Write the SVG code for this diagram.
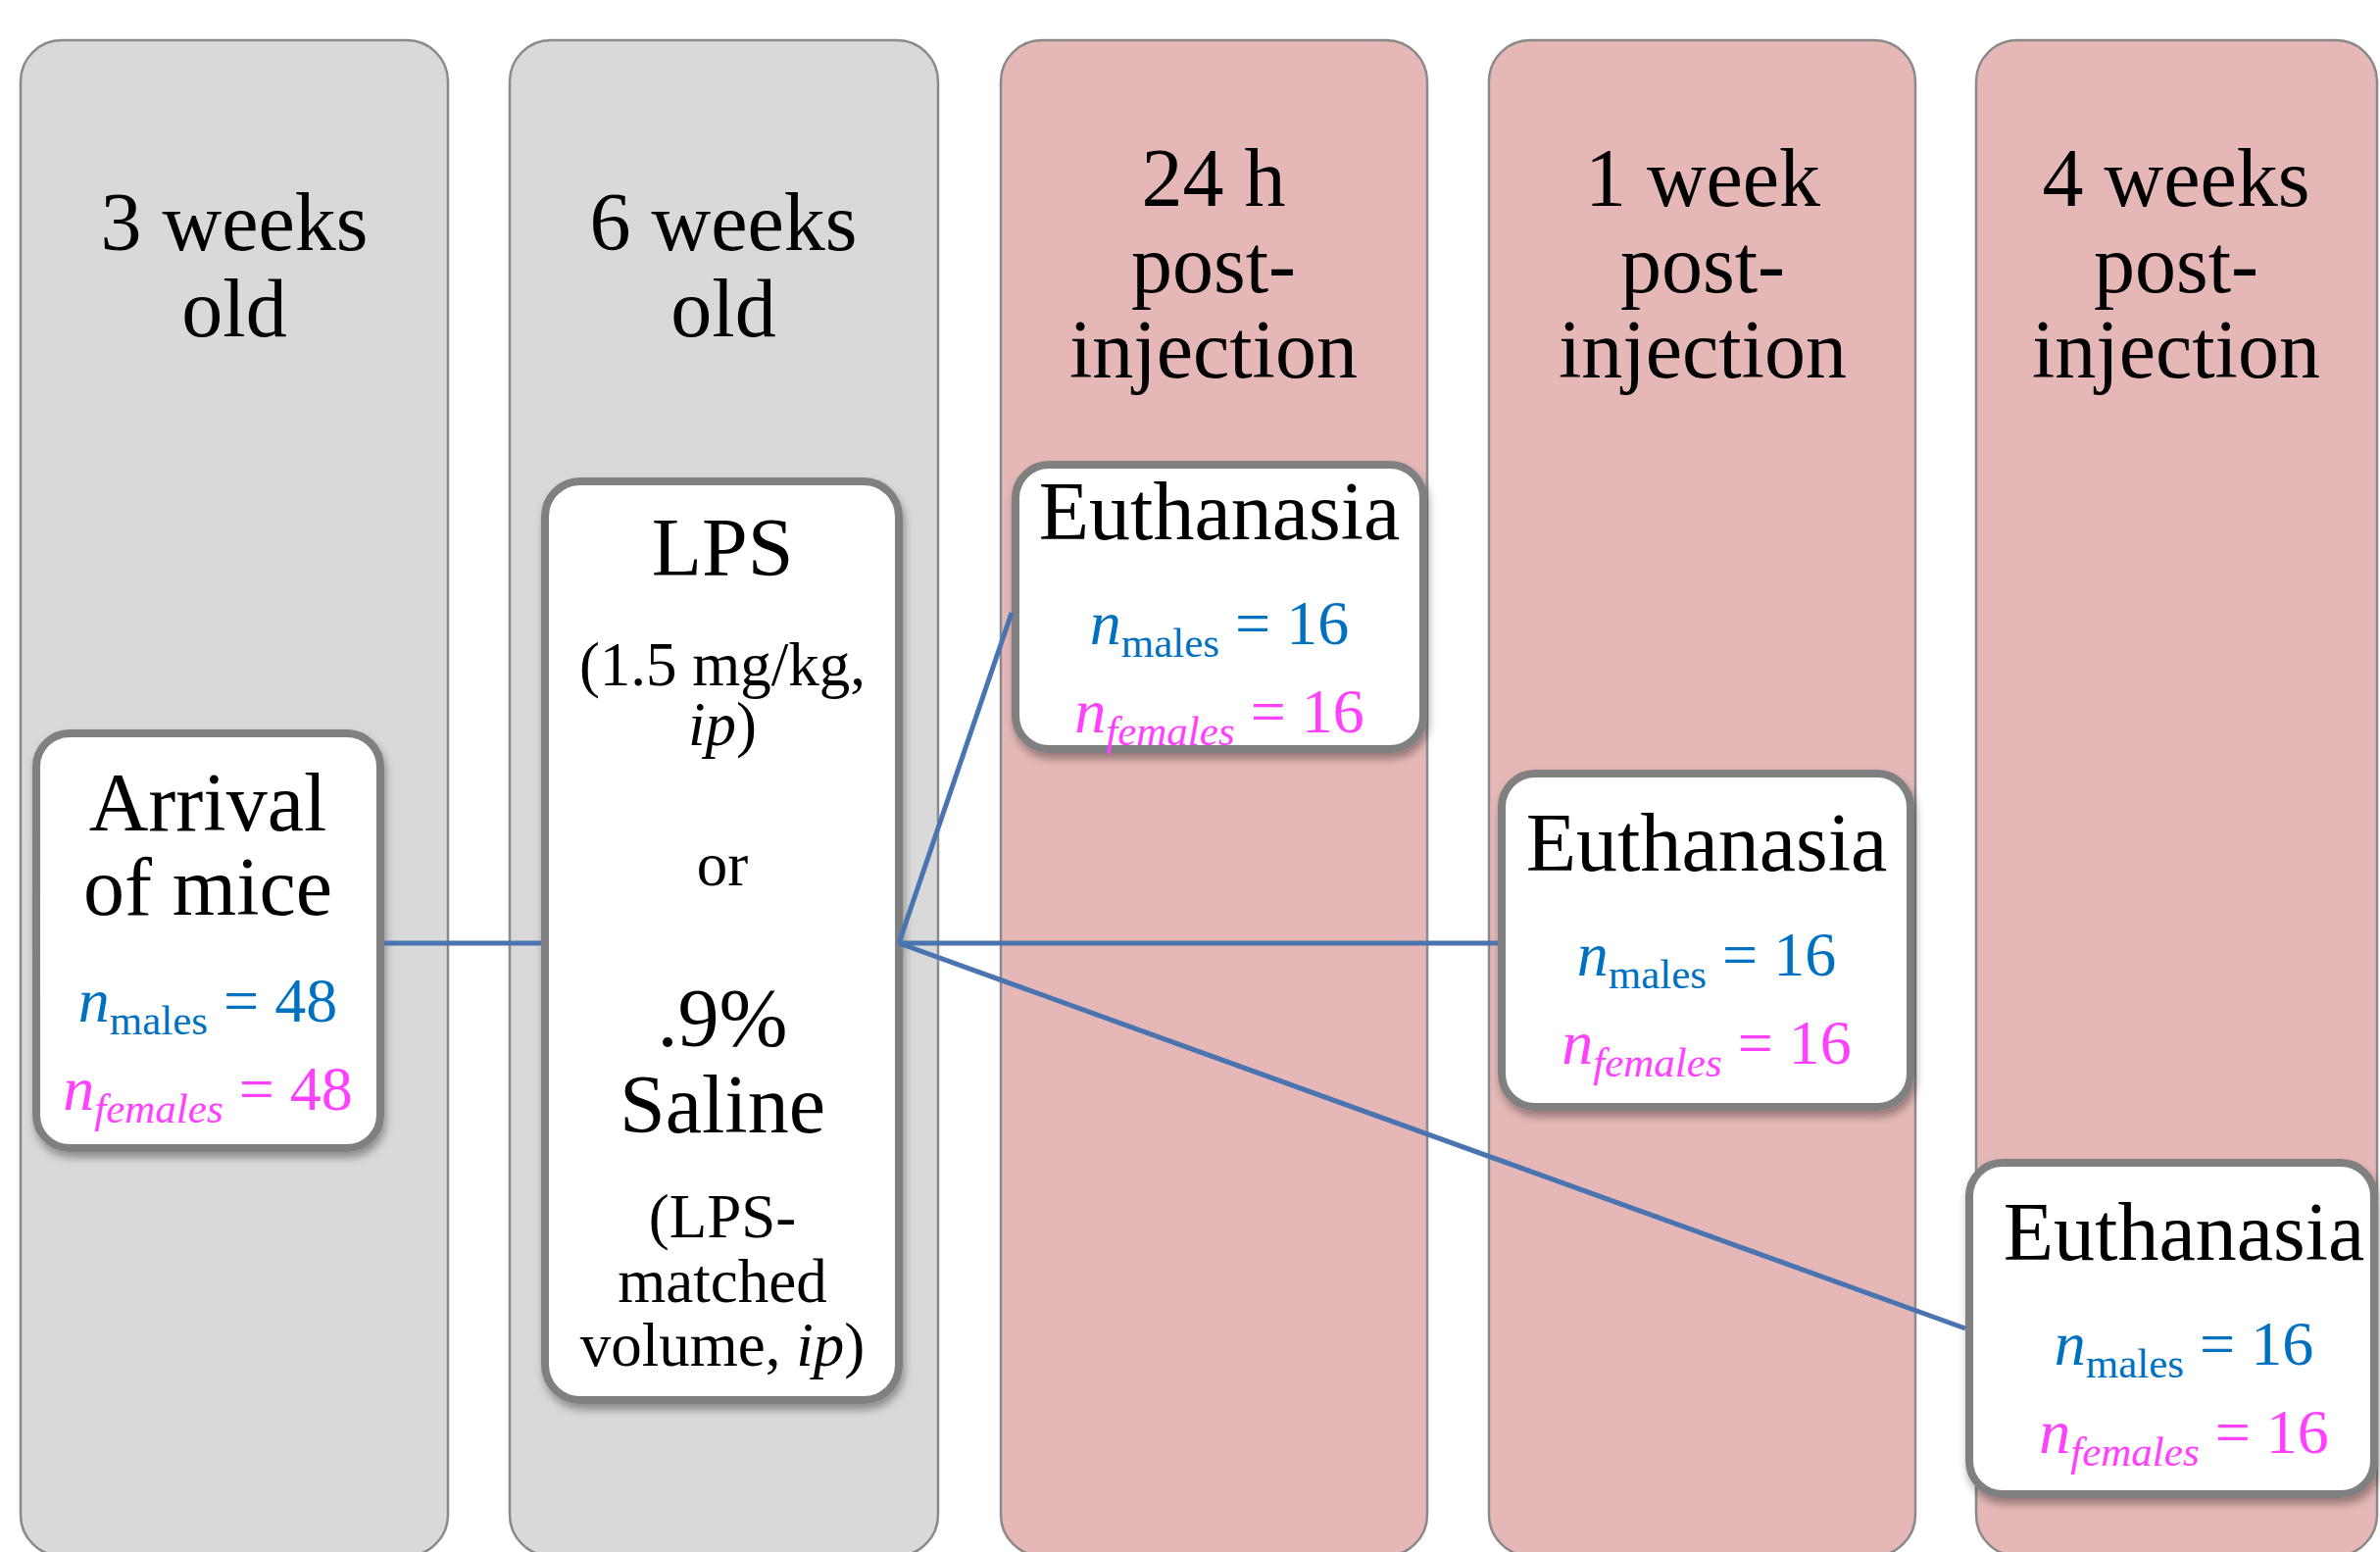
<svg xmlns="http://www.w3.org/2000/svg" width="2428" height="1583" viewBox="0 0 2428 1583">
<defs>
<filter id="sh" x="-10%" y="-10%" width="120%" height="125%">
<feDropShadow dx="2" dy="6" stdDeviation="4" flood-color="#000" flood-opacity="0.35"/>
</filter>
<style>
.colg{fill:#d9d9d9;stroke:#8a8a8a;stroke-width:2.5}
.colp{fill:#e5b8b7;stroke:#8a8a8a;stroke-width:2.5}
.hdr{font-family:"Liberation Serif","Times New Roman",serif;font-size:84px;fill:#000;text-anchor:middle}
.box{fill:#fff;stroke:#808080;stroke-width:8;filter:url(#sh)}
.big{font-family:"Liberation Serif","Times New Roman",serif;font-size:84px;fill:#000;text-anchor:middle}
.mid{font-family:"Liberation Serif","Times New Roman",serif;font-size:63px;fill:#000;text-anchor:middle}
.nm{font-family:"Liberation Serif","Times New Roman",serif;font-size:64px;fill:#0070c0;text-anchor:middle}
.nf{font-family:"Liberation Serif","Times New Roman",serif;font-size:64px;fill:#ff40ff;text-anchor:middle}
.it{font-style:italic}
.sub{font-size:43px}
.conn{stroke:#4a74b0;stroke-width:5;fill:none}
</style>
</defs>
<g id="columns">
<g id="col-3wk">
<rect class="colg" x="21" y="41" width="436" height="1546" rx="42"/>
<text class="hdr" x="239" y="255">3 weeks</text>
<text class="hdr" x="239" y="343">old</text>
</g>
<g id="col-6wk">
<rect class="colg" x="520" y="41" width="437" height="1546" rx="42"/>
<text class="hdr" x="738" y="255">6 weeks</text>
<text class="hdr" x="738" y="343">old</text>
</g>
<g id="col-24h">
<rect class="colp" x="1021" y="41" width="435" height="1546" rx="42"/>
<text class="hdr" x="1238" y="210">24 h</text>
<text class="hdr" x="1238" y="298">post-</text>
<text class="hdr" x="1238" y="385">injection</text>
</g>
<g id="col-1wk">
<rect class="colp" x="1519" y="41" width="435" height="1546" rx="42"/>
<text class="hdr" x="1737" y="210">1 week</text>
<text class="hdr" x="1737" y="298">post-</text>
<text class="hdr" x="1737" y="385">injection</text>
</g>
<g id="col-4wk">
<rect class="colp" x="2016" y="41" width="409" height="1546" rx="42"/>
<text class="hdr" x="2220" y="210">4 weeks</text>
<text class="hdr" x="2220" y="298">post-</text>
<text class="hdr" x="2220" y="385">injection</text>
</g>
</g>
<g id="arrival">
<rect class="box" x="37" y="748" width="351" height="423" rx="34"/>
<text class="big" x="212" y="847">Arrival</text>
<text class="big" x="212" y="933">of mice</text>
<text class="nm" x="212" y="1042"><tspan class="it">n</tspan><tspan class="sub" dy="13">males</tspan><tspan dy="-13"> = 48</tspan></text>
<text class="nf" x="212" y="1132"><tspan class="it">n</tspan><tspan class="sub it" dy="13">females</tspan><tspan dy="-13"> = 48</tspan></text>
</g>
<g id="treatment">
<rect class="box" x="556" y="491" width="361" height="937" rx="36"/>
<text class="big" x="737" y="587">LPS</text>
<text class="mid" x="737" y="699">(1.5 mg/kg,</text>
<text class="mid" x="737" y="760"><tspan class="it">ip</tspan>)</text>
<text class="mid" x="737" y="903">or</text>
<text class="big" x="737" y="1067">.9%</text>
<text class="big" x="737" y="1155">Saline</text>
<text class="mid" x="737" y="1262">(LPS-</text>
<text class="mid" x="737" y="1328">matched</text>
<text class="mid" x="737" y="1393">volume, <tspan class="it">ip</tspan>)</text>
</g>
<g id="euth-24h">
<rect class="box" x="1036" y="474" width="416" height="290" rx="34"/>
<text class="big" x="1244" y="550">Euthanasia</text>
<text class="nm" x="1244" y="657"><tspan class="it">n</tspan><tspan class="sub" dy="13">males</tspan><tspan dy="-13"> = 16</tspan></text>
<text class="nf" x="1244" y="747"><tspan class="it">n</tspan><tspan class="sub it" dy="13">females</tspan><tspan dy="-13"> = 16</tspan></text>
</g>
<g id="euth-1wk">
<rect class="box" x="1532" y="789" width="417" height="340" rx="34"/>
<text class="big" x="1741" y="888">Euthanasia</text>
<text class="nm" x="1741" y="995"><tspan class="it">n</tspan><tspan class="sub" dy="13">males</tspan><tspan dy="-13"> = 16</tspan></text>
<text class="nf" x="1741" y="1085"><tspan class="it">n</tspan><tspan class="sub it" dy="13">females</tspan><tspan dy="-13"> = 16</tspan></text>
</g>
<g id="euth-4wk">
<rect class="box" x="2009" y="1186" width="413" height="338" rx="34"/>
<text class="big" x="2228" y="1285">Euthanasia</text>
<text class="nm" x="2228" y="1392"><tspan class="it">n</tspan><tspan class="sub" dy="13">males</tspan><tspan dy="-13"> = 16</tspan></text>
<text class="nf" x="2228" y="1482"><tspan class="it">n</tspan><tspan class="sub it" dy="13">females</tspan><tspan dy="-13"> = 16</tspan></text>
</g>
<g id="connectors">
<line class="conn" x1="392" y1="962" x2="552" y2="962"/>
<line class="conn" x1="917" y1="962" x2="1032" y2="625"/>
<line class="conn" x1="917" y1="962" x2="1528" y2="962"/>
<line class="conn" x1="917" y1="962" x2="2005" y2="1355"/>
</g>
</svg>
